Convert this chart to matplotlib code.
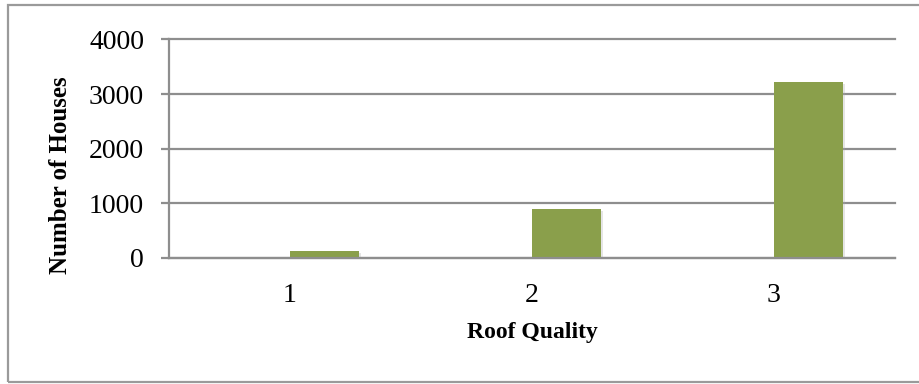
import matplotlib
matplotlib.use("Agg")
import matplotlib.pyplot as plt
import matplotlib.patches as mpatches
import matplotlib.patheffects as pe

# Houses by roof quality rating
categories = ["1", "2", "3"]
house_counts = [128, 900, 3230]
y_ticks = [0, 1000, 2000, 3000, 4000]

bar_color = "#8A9F4B"
grid_color = "#8E8E8E"
font = "Liberation Serif"

fig = plt.figure(figsize=(9.19, 3.84), dpi=100)
ax = fig.add_axes([169 / 919, 126.3 / 384, 726 / 919, 218.2 / 384])

x = list(range(len(categories)))
bars = ax.bar(x, house_counts, width=0.285, align="edge", color=bar_color,
              zorder=3, linewidth=0)
for b in bars:
    b.set_path_effects([pe.SimplePatchShadow(offset=(1.5, -1.5), shadow_rgbFace="#aaaaaa", alpha=0.3),
                        pe.Normal()])

ax.set_xlim(-0.5, len(categories) - 0.5)
ax.set_ylim(0, 4000)
ax.set_xticks(x)
ax.set_xticklabels(categories, fontsize=20, family=font)
ax.set_yticks(y_ticks)
ax.set_yticklabels([str(v) for v in y_ticks], fontsize=20, family=font)

ax.yaxis.grid(True, color=grid_color, linewidth=1.6, zorder=0)
for gl in ax.get_ygridlines():
    gl.set_clip_on(False)
ax.set_axisbelow(True)
for side in ("top", "right"):
    ax.spines[side].set_visible(False)
ax.spines["left"].set_color(grid_color)
ax.spines["left"].set_linewidth(1.6)
ax.spines["bottom"].set_color(grid_color)
ax.spines["bottom"].set_linewidth(1.6)
ax.spines["bottom"].set_zorder(4)

ax.tick_params(axis="y", direction="out", length=6, width=1.6, color=grid_color, pad=12)
ax.tick_params(axis="x", length=0, pad=18)

ax.set_ylabel("Number of Houses", fontsize=18, family=font, fontweight="bold",
              va="center", ha="center")
ax.yaxis.set_label_coords(-0.149, 0.379)
ax.set_xlabel("Roof Quality", fontsize=17, family=font, fontweight="bold",
              va="center", ha="center")
ax.xaxis.set_label_coords(0.5, -0.345)

# chart frame
frame = mpatches.Rectangle((8 / 919, 2 / 384), 1.0, 377 / 384, transform=fig.transFigure,
                           fill=False, edgecolor="#9A9A9A", linewidth=1.6, clip_on=False)
fig.patches.append(frame)

fig.savefig("out.png", dpi=100, facecolor="white")
